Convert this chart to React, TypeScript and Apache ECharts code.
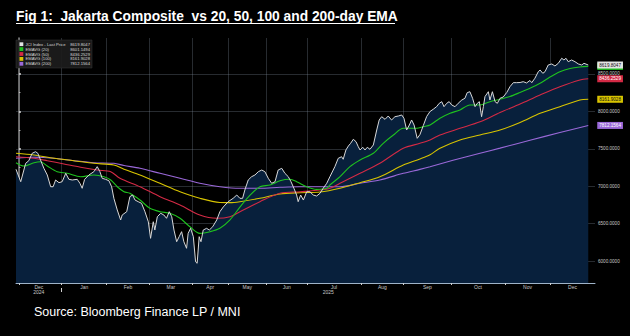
import React, { useEffect, useRef } from "react";
import * as echarts from "echarts";

// ---- axis definitions (trading-day index on x) ----
const monthNames = ["Dec", "Jan", "Feb", "Mar", "Apr", "May", "Jun", "Jul", "Aug", "Sep", "Oct", "Nov", "Dec"];
const monthStartDay = [0, 19, 39, 58, 77, 93, 110, 128, 152, 171, 192, 216, 236];
const yearNames = ["2024", "2025"];
const yearBoundaryDay = [19];
const X_MIN = -1.3;
const X_MAX = 256;
const Y_MIN = 5706;
const Y_MAX = 8981;
const yLabelValues = [6000, 6500, 7000, 7500, 8000, 8500];
const yMinorTicks = [5750, 6250, 6750, 7250, 7750, 8250, 8750];

// ---- legend ----
const seriesNames = ["JCI Index - Last Price", "EMAVG (20)", "EMAVG (50)", "EMAVG (100)", "EMAVG (200)"];
const lastValues = [8619.8047, 8601.1494, 8436.2529, 8161.9028, 7812.1564];

// ---- price ----
const priceDay = [-1.3,0.8,3.0,4.4,5.9,7.4,8.4,9.6,11.1,12.6,14.1,15.2,16.3,17.8,19.2,20.8,22.2,23.7,25.9,27.1,28.1,29.2,31.1,33.3,34.8,36.0,37.0,38.5,40.0,41.2,42.2,43.7,45.2,45.9,47.9,49.3,50.5,51.6,53.0,54.5,56.0,57.5,58.5,59.7,60.4,61.5,63.0,64.4,65.6,66.8,67.9,68.9,70.1,71.2,72.3,73.3,74.5,75.2,76.3,77.5,78.5,79.2,80.1,80.9,81.9,83.4,84.6,86.1,87.9,89.3,90.8,93.0,95.2,96.8,98.2,99.4,100.4,101.9,103.4,104.9,106.4,107.9,109.3,110.8,112.3,113.8,115.2,116.8,118.2,119.7,120.9,122.2,123.4,124.1,125.2,126.4,127.9,129.3,130.8,132.3,133.8,135.2,136.8,138.2,140.4,141.9,143.4,144.1,145.3,146.4,147.4,148.6,149.8,150.8,151.6,152.8,153.8,154.8,156.0,157.5,159.0,160.1,161.2,162.7,164.1,165.6,167.1,168.6,170.1,171.1,172.3,173.5,174.5,175.6,177.0,178.2,179.7,181.2,182.7,184.1,185.6,186.8,187.9,188.9,190.1,191.2,192.3,193.8,195.2,196.8,198.2,199.2,200.4,201.6,202.7,203.7,204.6,205.6,206.4,207.1,208.6,209.3,210.4,211.6,212.6,213.8,215.2,216.8,218.2,219.7,221.2,222.7,224.1,225.6,227.1,227.9,229.3,230.8,231.6,232.8,233.8,235.2,236.8,238.2,239.7,241.2,242.2,243.1,244.1,245.6,247.1,248.6,250.1,251.1,253.0];
const priceValue = [7226,7060,7306,7341,7440,7461,7440,7350,7239,7150,6993,6993,7083,7047,7060,7172,7092,7083,7092,7039,6972,7092,7150,7194,7261,7194,7106,7092,7073,6993,6838,6682,6548,6615,6659,6860,6882,6815,6793,6771,6659,6525,6303,6525,6414,6592,6638,6615,6571,6659,6592,6414,6258,6325,6392,6258,6170,6370,6437,6325,5990,5969,6325,6258,6414,6437,6414,6458,6548,6659,6722,6793,6838,6882,6838,6838,6949,7083,7127,7150,7194,7216,7194,7106,7039,7060,7216,7239,7172,7127,7060,6972,6882,6793,6882,6815,6926,6926,6882,6869,6905,6972,7039,7127,7261,7373,7394,7360,7484,7537,7573,7627,7595,7528,7484,7520,7484,7520,7493,7551,7751,7885,7929,7894,7938,7885,7929,7938,7952,7908,7751,7818,7885,7818,7640,7690,7811,7932,7999,8028,8063,8108,8130,8063,8108,8130,8086,8063,8108,8152,8175,8250,8263,8175,8063,8108,8130,7929,8063,8197,8263,8152,8263,8130,8108,8175,8192,8253,8330,8384,8384,8386,8397,8380,8413,8384,8443,8531,8553,8509,8531,8620,8634,8607,8643,8710,8687,8710,8664,8687,8664,8634,8620,8643,8619.8047];

// ---- EMAs ----
const ema20Day = [-1.3,2.2,6.7,9.6,12.6,17.0,21.5,27.4,33.3,37.8,40.8,43.7,46.7,49.3,53.8,58.2,62.7,67.1,71.6,76.0,80.4,84.9,89.3,93.8,98.2,102.7,107.1,111.6,116.0,120.4,123.4,127.9,132.3,136.8,138.2,142.7,147.1,151.6,157.5,161.9,166.4,170.8,173.8,176.8,179.7,182.7,187.1,191.6,196.0,200.4,204.9,209.3,213.8,218.2,222.7,227.1,231.6,236.0,240.4,244.9,249.3,253.0];
const ema20Value = [7314,7270,7314,7327,7270,7194,7172,7127,7150,7127,7083,6993,6926,6905,6815,6704,6659,6638,6571,6458,6370,6392,6437,6550,6720,6880,6993,7016,7073,7092,7060,6993,6958,6972,7016,7127,7261,7350,7440,7573,7684,7774,7774,7774,7795,7818,7908,7975,8019,8086,8086,8130,8162,8199,8253,8309,8376,8460,8531,8574,8594,8601.1494];
const ema50Day = [-1.3,6.7,12.6,20.0,27.4,34.8,40.8,44.9,53.8,62.7,71.6,80.4,87.9,93.8,98.2,107.1,116.0,124.9,133.8,138.2,142.7,151.6,160.4,170.8,178.2,182.7,187.1,196.0,204.9,213.8,222.7,231.6,240.4,249.3,253.0];
const ema50Value = [7394,7373,7341,7297,7253,7216,7194,7106,6993,6860,6749,6615,6571,6592,6659,6793,6905,6926,6949,6972,7039,7172,7306,7507,7573,7618,7684,7774,7862,7985,8099,8219,8330,8420,8436.2529];
const ema100Day = [-1.3,6.7,15.6,24.4,33.3,42.2,46.7,53.8,62.7,71.6,80.4,89.3,93.8,98.2,107.1,116.0,124.9,133.8,142.7,151.6,160.4,170.8,178.2,182.7,187.1,196.0,204.9,213.8,222.7,231.6,240.4,249.3,253.0];
const ema100Value = [7440,7417,7373,7341,7306,7283,7226,7150,7039,6926,6838,6782,6780,6793,6838,6896,6913,6922,6972,7047,7127,7283,7364,7420,7507,7618,7684,7751,7852,7975,8063,8152,8161.9028];
const ema200Day = [-1.3,6.7,15.6,24.4,33.3,42.2,46.7,53.8,62.7,71.6,80.4,89.3,98.2,107.1,116.0,124.9,133.8,142.7,151.6,160.4,170.8,178.2,182.7,192.9,204.9,213.8,227.1,240.4,253.0];
const ema200Value = [7373,7386,7373,7341,7314,7306,7277,7239,7172,7106,7039,6993,6972,6972,6985,6993,6993,6993,7039,7083,7172,7225,7260,7346,7440,7509,7614,7718,7812.1564];

const colors = ["#e4e4e4", "#1fc21f", "#d42a45", "#d8c400", "#9a68d8"];
const tagText = ["#111", "#111", "#fff", "#111", "#fff"];

export default function App() {
  const ref = useRef<HTMLDivElement>(null);

  useEffect(() => {
    const chart = echarts.init(ref.current!, null, { renderer: "svg" });
    const zip = (d: number[], v: number[]) => d.map((x, i) => [x, v[i]]);
    const bounds = [X_MIN, ...monthStartDay.slice(1), X_MAX];
    const monthMid = monthNames.map((_, i) => (bounds[i] + bounds[i + 1]) / 2);
    const yBounds = [X_MIN, ...yearBoundaryDay, X_MAX];
    const yearMid = yearNames.map((_, i) => (yBounds[i] + yBounds[i + 1]) / 2);
    const lookup = (arr: number[], names: string[]) => (v: number) => {
      const i = arr.findIndex((m) => Math.abs(m - v) < 1e-6);
      return i >= 0 ? names[i] : "";
    };
    const gridColor = "rgba(130,142,158,0.3)";

    const emaSeries = [
      { idx: 4, d: ema200Day, v: ema200Value },
      { idx: 3, d: ema100Day, v: ema100Value },
      { idx: 2, d: ema50Day, v: ema50Value },
      { idx: 1, d: ema20Day, v: ema20Value },
    ].map((s) => ({
      type: "line",
      name: seriesNames[s.idx],
      data: zip(s.d, s.v),
      showSymbol: false,
      smooth: 0.3,
      z: 3,
      lineStyle: { color: colors[s.idx], width: 1.1 },
      endLabel: {
        show: true,
        formatter: () => lastValues[s.idx].toFixed(4),
        distance: 9,
        fontSize: 4.6,
        fontFamily: "Liberation Sans",
        color: tagText[s.idx],
        backgroundColor: colors[s.idx],
        padding: [1, 2],
      },
    }));

    const legendGraphics: any[] = [
      {
        type: "rect",
        shape: { x: 16, y: 40, width: 76, height: 28 },
        style: { fill: "rgba(28,28,28,0.92)", stroke: "#3a3a3a", lineWidth: 0.5 },
        z: 100,
      },
    ];
    seriesNames.forEach((n, i) => {
      const cy = 44.2 + i * 4.9;
      legendGraphics.push({
        type: "rect",
        shape: { x: 19.5, y: cy - 1.9, width: 3.8, height: 3.8 },
        style: { fill: colors[i] },
        z: 101,
      });
      legendGraphics.push({
        type: "text",
        x: 25.5,
        y: cy,
        style: { text: n, fill: "#d8d8d8", fontSize: 4.2, fontFamily: "Liberation Sans", verticalAlign: "middle", align: "left" },
        z: 101,
      });
      legendGraphics.push({
        type: "text",
        x: 90,
        y: cy,
        style: { text: lastValues[i].toFixed(4), fill: "#d8d8d8", fontSize: 4.2, fontFamily: "Liberation Sans", verticalAlign: "middle", align: "right" },
        z: 101,
      });
    });

    chart.setOption({
      animation: false,
      backgroundColor: "#000000",
      grid: { left: 16, right: 35, top: 38, bottom: 53, containLabel: false },
      xAxis: [
        {
          type: "value",
          min: X_MIN,
          max: X_MAX,
          position: "bottom",
          axisLine: { show: true, lineStyle: { color: "#9fb3c8", width: 1 } },
          axisTick: { show: true, customValues: monthStartDay, length: 2, lineStyle: { color: "#d0d0d0" } },
          axisLabel: {
            customValues: monthMid,
            formatter: lookup(monthMid, monthNames),
            fontSize: 5,
            color: "#c8c8c8",
            fontFamily: "Liberation Sans",
            margin: 1,
          },
          splitLine: { show: true, lineStyle: { color: gridColor, width: 1 } },
        },
        {
          type: "value",
          min: X_MIN,
          max: X_MAX,
          position: "bottom",
          offset: 5,
          axisLine: { show: false },
          axisTick: { show: true, customValues: yearBoundaryDay, length: 4, lineStyle: { color: "#d0d0d0" } },
          axisLabel: {
            customValues: yearMid,
            formatter: lookup(yearMid, yearNames),
            fontSize: 5,
            color: "#c8c8c8",
            fontFamily: "Liberation Sans",
            margin: 1,
          },
          splitLine: { show: false },
        },
      ],
      yAxis: [
        {
          type: "value",
          min: Y_MIN,
          max: Y_MAX,
          position: "right",
          axisLine: { show: true, lineStyle: { color: "#8a8a8a", width: 1.5 } },
          axisTick: { show: true, customValues: yLabelValues, length: 2, lineStyle: { color: "#e0e0e0", width: 1.5 } },
          axisLabel: {
            customValues: yLabelValues,
            formatter: (v: number) => v.toFixed(4),
            fontSize: 4.6,
            color: "#c8c8c8",
            fontFamily: "Liberation Sans",
            margin: 3,
          },
          splitLine: { show: true, lineStyle: { color: gridColor, width: 1 } },
        },
        {
          type: "value",
          min: Y_MIN,
          max: Y_MAX,
          position: "right",
          axisLine: { show: false },
          axisTick: { show: true, customValues: yMinorTicks, length: 1.5, lineStyle: { color: "#bbbbbb" } },
          axisLabel: { show: false },
          splitLine: { show: false },
        },
      ],
      series: [
        {
          type: "line",
          name: "area",
          data: zip(priceDay, priceValue),
          showSymbol: false,
          silent: true,
          z: 1,
          lineStyle: { width: 0 },
          areaStyle: { color: "#08203c", opacity: 1, origin: "start" },
        },
        ...emaSeries,
        {
          type: "line",
          name: seriesNames[0],
          data: zip(priceDay, priceValue),
          showSymbol: false,
          z: 4,
          lineStyle: { color: "#d8d8d8", width: 1 },
          endLabel: {
            show: true,
            formatter: () => lastValues[0].toFixed(4),
            distance: 9,
            fontSize: 4.6,
            fontFamily: "Liberation Sans",
            color: tagText[0],
            backgroundColor: colors[0],
            padding: [1, 2],
          },
        },
      ],
      graphic: [
        {
          type: "text",
          x: 16,
          y: 8.5,
          scaleX: 0.92,
          style: {
            text: "Fig 1:  Jakarta Composite  vs 20, 50, 100 and 200-day EMA",
            fill: "#ffffff",
            fontSize: 15,
            fontWeight: "bold",
            fontFamily: "Liberation Sans",
          },
          z: 100,
        },
        {
          type: "line",
          shape: { x1: 16, y1: 23.5, x2: 395, y2: 23.5 },
          style: { stroke: "#ffffff", lineWidth: 1.2 },
          z: 100,
        },
        {
          type: "text",
          x: 34,
          y: 306.5,
          scaleX: 1.04,
          style: {
            text: "Source: Bloomberg Finance LP / MNI",
            fill: "#ffffff",
            fontSize: 12,
            fontFamily: "Liberation Sans",
          },
          z: 100,
        },
        ...legendGraphics,
      ],
    });

    return () => chart.dispose();
  }, []);

  return <div ref={ref} style={{ position: "fixed", left: 0, top: 0, width: 630, height: 336 }} />;
}
